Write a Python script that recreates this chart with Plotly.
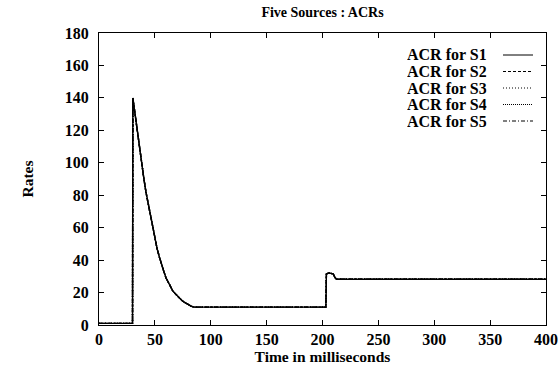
import plotly.graph_objects as go

# time in milliseconds
time_ms = [0, 30, 30.3, 32, 34, 36, 38, 40, 42, 44, 46, 48, 50, 52, 54, 56, 58, 60,
           62, 64, 66, 68, 70, 72, 74, 76, 78, 80, 82, 84, 86,
           203, 203.5, 206, 209.5, 211, 212.5, 400]

acr_s1 = [1, 1, 140, 131, 123, 113, 102, 91, 82, 75, 68, 60, 53, 47, 42, 37, 33, 29,
          26, 23.5, 21, 19.5, 18, 16.5, 15.2, 14.2, 13.3, 12.5, 11.8, 11.2, 11,
          11, 31.5, 32, 31.5, 29.5, 28.2, 28.2]
# all five sources overlap in the picture
acr_s2 = list(acr_s1)
acr_s3 = list(acr_s1)
acr_s4 = list(acr_s1)
acr_s5 = list(acr_s1)

series_names = ["ACR for S1", "ACR for S2", "ACR for S3", "ACR for S4", "ACR for S5"]
series_vals = [acr_s1, acr_s2, acr_s3, acr_s4, acr_s5]
dashes = ["solid", "3px,2px", "1px,2px", "1px,1px", "4px,2px,1px,2px"]

x_ticks = [0, 50, 100, 150, 200, 250, 300, 350, 400]
y_ticks = [0, 20, 40, 60, 80, 100, 120, 140, 160, 180]

FONT = "Liberation Serif"

fig = go.Figure()
for name, vals, dash in zip(series_names, series_vals, dashes):
    fig.add_trace(go.Scatter(x=time_ms, y=vals, mode="lines", name=name,
                             line=dict(color="black", width=1.4, dash=dash),
                             showlegend=False))

W, H = 560, 368
L, R, T, B = 99, 14, 33, 43
pw, ph = W - L - R, H - T - B

legend_y_px = [55, 71.5, 88, 104.5, 121]
for name, dash, ypx in zip(series_names, dashes, legend_y_px):
    yp = (H - B - ypx) / ph
    fig.add_annotation(x=(488 - L) / pw, y=yp, xref="paper", yref="paper",
                       text=name, showarrow=False, xanchor="right", yanchor="middle",
                       height=15, valign="middle", borderpad=0,
                       font=dict(family=FONT, size=16, color="black", weight="bold"))
    fig.add_shape(type="line", xref="paper", yref="paper",
                  x0=(503 - L) / pw, x1=(533 - L) / pw, y0=yp, y1=yp,
                  line=dict(color="black", width=1, dash=dash))

axis_common = dict(showgrid=False, zeroline=False, showline=True, linecolor="black",
                   linewidth=1, mirror="ticks", ticks="inside", ticklen=5,
                   tickcolor="black", tickwidth=1, automargin=False,
                   tickfont=dict(family=FONT, size=16, color="black", weight="bold"))

fig.update_layout(
    width=W, height=H,
    margin=dict(l=L, r=R, t=T, b=B),
    paper_bgcolor="white", plot_bgcolor="white",
    title=dict(text="Five Sources : ACRs", x=0.5, xref="paper", xanchor="center",
               y=1 - 12 / H, yanchor="middle", automargin=False,
               font=dict(family=FONT, size=14, color="black", weight="bold")),
    xaxis=dict(range=[0, 400], tickvals=x_ticks,
               title=dict(text="Time in milliseconds", standoff=3,
                          font=dict(family=FONT, size=15.5, color="black", weight="bold")),
               **axis_common),
    yaxis=dict(range=[0, 180], tickvals=y_ticks, ticklabelstandoff=6,
               title=dict(text="Rates", standoff=27,
                          font=dict(family=FONT, size=15.5, color="black", weight="bold")),
               **axis_common),
)

fig.write_html("out.html")
